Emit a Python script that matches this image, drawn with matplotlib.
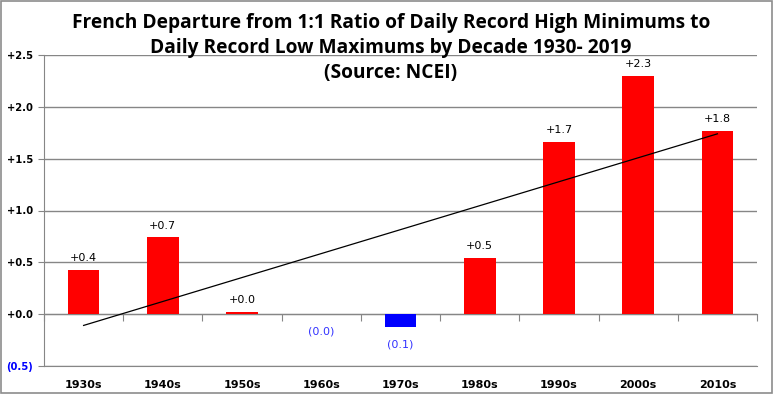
import matplotlib

matplotlib.use("Agg")

import matplotlib.pyplot as plt
import numpy as np
from matplotlib.patches import Rectangle

decades = ["1930s", "1940s", "1950s", "1960s", "1970s", "1980s", "1990s", "2000s", "2010s"]
departure = [0.43, 0.74, 0.02, -0.001, -0.12, 0.54, 1.66, 2.30, 1.77]
y_ticks = [-0.5, 0.0, 0.5, 1.0, 1.5, 2.0, 2.5]

title_lines = [
    "French Departure from 1:1 Ratio of Daily Record High Minimums to",
    "Daily Record Low Maximums by Decade 1930- 2019",
    "(Source: NCEI)",
]

RED = "#ff0000"
BLUE = "#0000ff"
GRID = "#868686"


def fmt(v):
    if v < 0:
        return f"({abs(v):.1f})"
    return f"+{v:.1f}"


def main() -> int:
    plt.rcParams["font.family"] = ["DejaVu Sans"]
    fig = plt.figure(figsize=(7.74, 3.94), dpi=100)
    ax = fig.add_axes([44 / 774, 1 - 366 / 394, (757 - 44) / 774, (366 - 55) / 394])

    x = np.arange(len(decades))
    vals = np.array(departure)
    colors = [BLUE if v < 0 else RED for v in vals]
    ax.bar(x, vals, width=0.40, color=colors, zorder=3)

    # linear trend line
    k, b = np.polyfit(x, vals, 1)
    ax.plot(x, k * x + b, color="black", lw=0.9, zorder=4)

    for xi, v in zip(x, vals):
        if v < 0:
            ax.annotate(fmt(v), (xi, v), xytext=(0, -9), textcoords="offset points",
                        ha="center", va="top", fontsize=8, color="#3333ff")
        else:
            ax.annotate(fmt(v), (xi, v), xytext=(0, 5), textcoords="offset points",
                        ha="center", va="bottom", fontsize=8, color="black")

    ax.set_xlim(-0.5, len(decades) - 0.5)
    ax.set_ylim(-0.5, 2.5)
    ax.set_yticks(y_ticks)
    ax.set_yticklabels([fmt(t) for t in y_ticks], fontsize=7.2, fontweight="bold")
    for lab, t in zip(ax.get_yticklabels(), y_ticks):
        lab.set_color(BLUE if t < 0 else "black")
    ax.tick_params(axis="y", length=4, color=GRID, pad=4)

    ax.set_xticks(x)
    ax.set_xticklabels(decades, fontsize=8, fontweight="bold")
    ax.tick_params(axis="x", length=0, pad=10)

    ax.grid(True, axis="y", color=GRID, lw=1, zorder=0)
    for s in ("top", "right"):
        ax.spines[s].set_visible(False)
    ax.spines["left"].set_color(GRID)
    ax.spines["bottom"].set_color(GRID)

    # category axis crossing at zero with boundary tick marks
    sec = ax.secondary_xaxis(0.5 / 3.0)
    sec.set_xticks(np.arange(len(decades) + 1) - 0.5)
    sec.set_xticklabels([])
    sec.tick_params(length=5, color=GRID, direction="out")
    sec.spines["bottom"].set_color(GRID)

    for i, line in enumerate(title_lines):
        fig.text(0.505, 1 - (23 + 25 * i) / 394, line, ha="center", va="center",
                 fontsize=13.8, fontweight="bold", family="Open Sans")

    fig.patches.append(Rectangle((0.001, 0.002), 0.997, 0.996, transform=fig.transFigure,
                                 fill=False, edgecolor="#8c8c8c", lw=1.2))

    fig.savefig("out.png", dpi=100)
    plt.close("all")
    return 0


if __name__ == "__main__":
    raise SystemExit(main())
